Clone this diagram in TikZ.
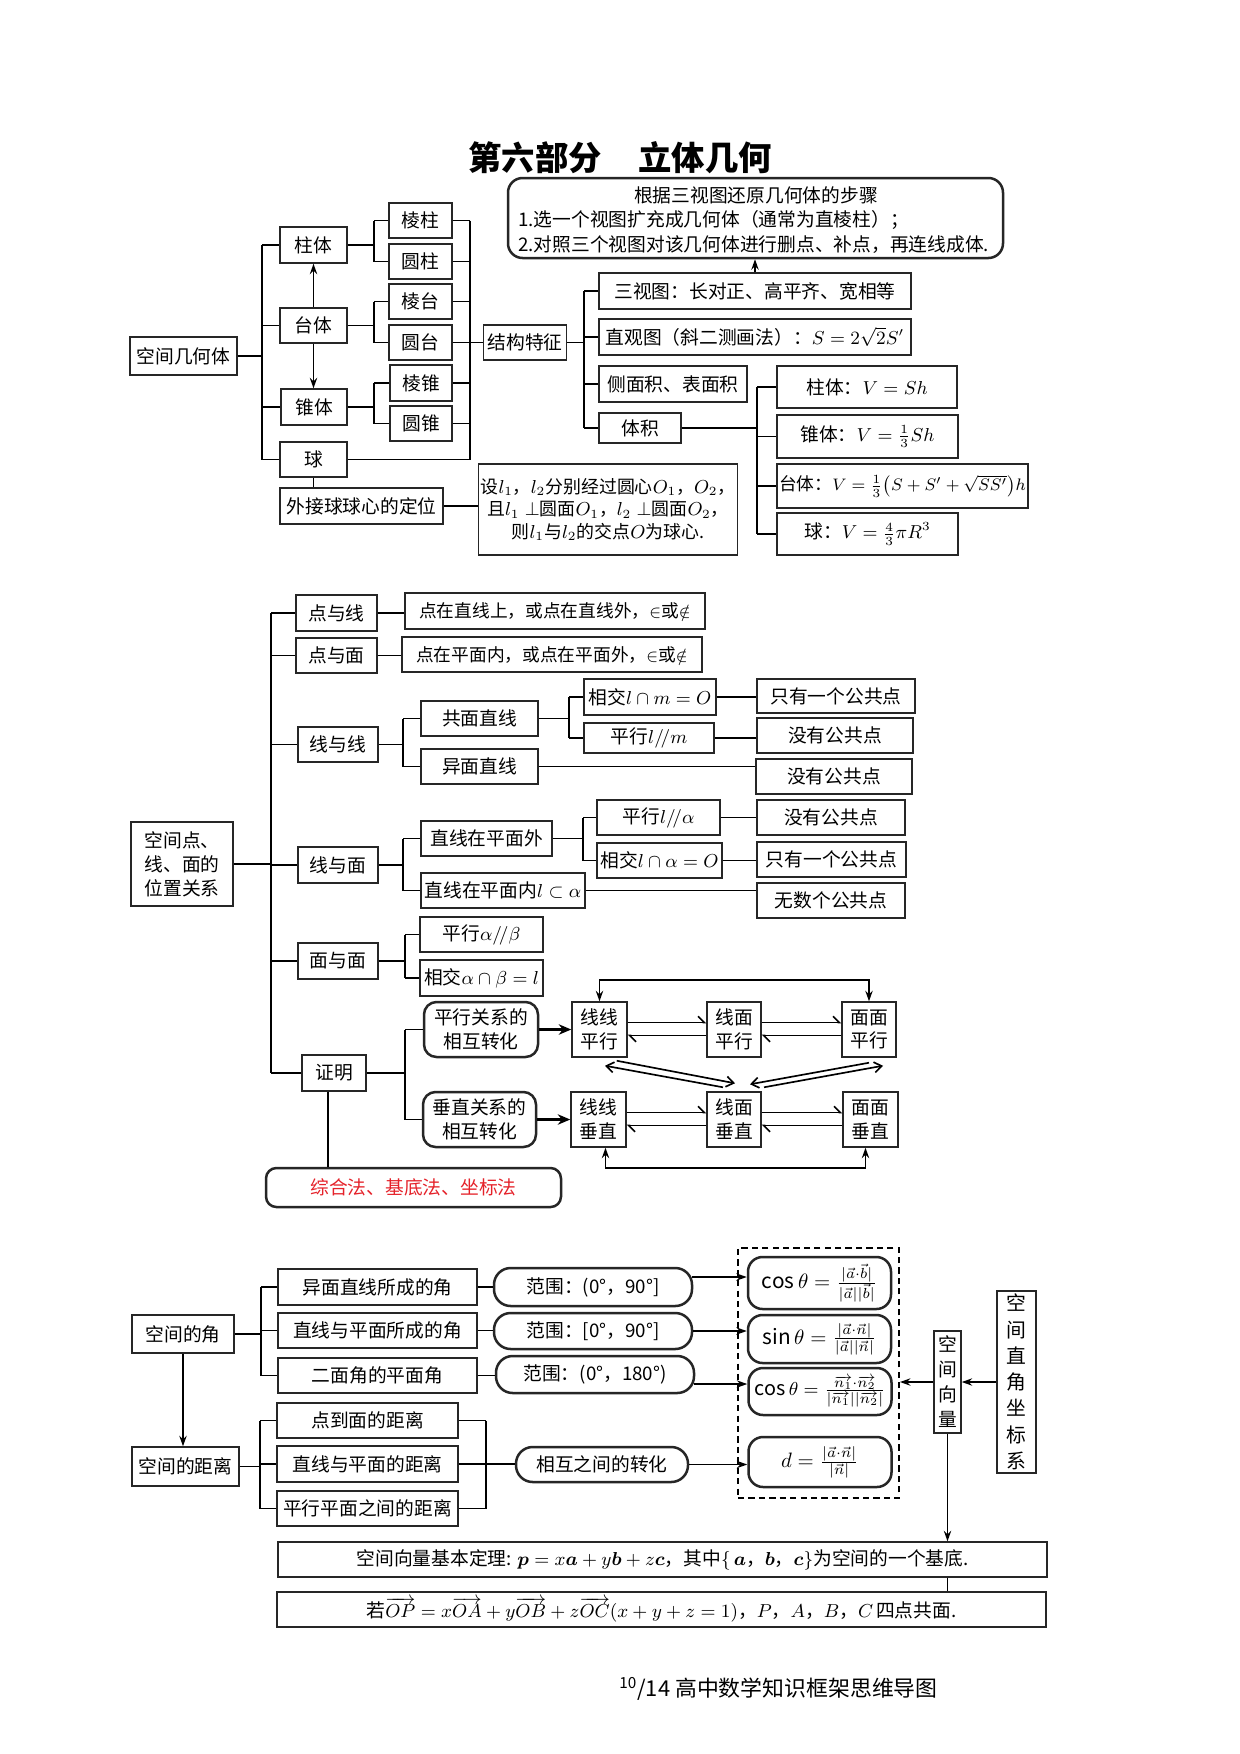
\documentclass[tikz,border=0pt]{standalone}
\usepackage{amsmath,amssymb}
\usepackage{fontspec}
\setmainfont{Noto Sans CJK SC}
\usetikzlibrary{arrows.meta,calc}
\definecolor{zred}{HTML}{E5222A}
\newcommand\fs{\fontsize{9}{11.5}\selectfont}
\newcommand\fsm{\fontsize{10}{12}\selectfont}
\tikzset{
  bx/.style={draw=black!85, line width=0.7pt, inner sep=1pt, font=\fs, align=center},
  sz/.style 2 args={minimum width=#1*0.48pt, minimum height=#2*0.48pt},
  rb/.style={bx, rounded corners=5pt, line width=1.2pt},
  ln/.style={line width=0.9pt},
  thin/.style={line width=0.7pt},
  arr/.style={ln, -{Stealth[length=5pt,width=3.5pt]}},
  arrb/.style={ln, {Stealth[length=5pt,width=3.5pt]}-{Stealth[length=5pt,width=3.5pt]}},
  harp/.style={line width=0.8pt, -{Straight Barb[harpoon,length=3pt,width=6pt]}},
  dg/.style={line width=0.8pt, -{Straight Barb[length=3.5pt,width=5pt]}}
}
\begin{document}
\begin{tikzpicture}[x=0.48pt,y=-0.48pt]
\fill[white] (0,0) rectangle (1240,1754);
\useasboundingbox (0,0) rectangle (1240,1754);

% ---------------- title ----------------
\node[font=\fontsize{16}{18}\selectfont\bfseries] (title) at (620,158) {第六部分\hspace{1.1em}立体几何};

% ---------------- part 1 ----------------
\node[rb, sz={495}{80}, rounded corners=7pt] (steps) at (755.5,218) {};
\node[font=\fs] (st1) at (756,195) {根据三视图还原几何体的步骤};
\node[font=\fs, anchor=west] (st2) at (511,220) {1.选一个视图扩充成几何体（通常为直棱柱）；};
\node[font=\fs, anchor=west] (st3) at (511,245) {2.对照三个视图对该几何体进行删点、补点，再连线成体.};

\node[bx, sz={107}{38}] (kjjht) at (183.5,356) {空间几何体};
\node[bx, sz={67}{36}] (zt) at (313.5,245) {柱体};
\node[bx, sz={67}{35}] (td) at (313.5,325.5) {台体};
\node[bx, sz={66}{36}] (zhui) at (314,407) {锥体};
\node[bx, sz={67}{35}] (qiu) at (313.5,459.5) {球};
\node[bx, sz={163}{36}] (wj) at (361.5,506) {外接球球心的定位};

\node[bx, sz={63}{35}] (lz) at (420.5,220.5) {棱柱};
\node[bx, sz={63}{35}] (yz) at (420.5,261.5) {圆柱};
\node[bx, sz={63}{35}] (lt) at (420.5,301.5) {棱台};
\node[bx, sz={63}{35}] (ytai) at (420.5,342.5) {圆台};
\node[bx, sz={62}{36}] (lzhui) at (421,383) {棱锥};
\node[bx, sz={62}{35}] (yzhui) at (421,423.5) {圆锥};

\node[bx, sz={83}{35}] (jg) at (525,342.5) {结构特征};
\node[bx, sz={312}{36}] (sst) at (755,291) {三视图：长对正、高平齐、宽相等};
\node[bx, sz={312}{36}] (zgt) at (755,337) {直观图（斜二测画法）：$S=2\sqrt{2}S'$};
\node[bx, sz={148}{36}] (cmj) at (673,384) {侧面积、表面积};
\node[bx, sz={82}{30}] (tj) at (640,428) {体积};

\node[bx, sz={180}{42}] (v1) at (867,387) {柱体：$V=Sh$};
\node[bx, sz={181}{43}] (v2) at (867.5,436.5) {锥体：$V=\frac{1}{3}Sh$};
\node[bx, sz={251}{44}, font=\fontsize{8.5}{11}\selectfont] (v3) at (902.5,486) {台体：$V=\frac{1}{3}\bigl(S+S'+\sqrt{SS'}\bigr)h$};
\node[bx, sz={181}{42}] (v4) at (867.5,534) {球：$V=\frac{4}{3}\pi R^3$};

\node[bx, sz={258}{91}, font=\fontsize{8.6}{11}\selectfont] (sl) at (608,509.5) {设$l_1$，$l_2$分别经过圆心$O_1$，$O_2$，\\且$l_1\perp$圆面$O_1$，$l_2\perp$圆面$O_2$，\\则$l_1$与$l_2$的交点$O$为球心.};

\coordinate (xA) at (262,0);
\coordinate (xB) at (374,0);
\coordinate (xC) at (470,0);
\coordinate (xD) at (584,0);
\coordinate (xE) at (757,0);

\draw[ln] (kjjht.east) -- (kjjht.east -| xA);
\draw[ln] (zt.west -| xA) -- (qiu.west -| xA);
\foreach \n in {zt,td,zhui,qiu} \draw[ln] (\n.west -| xA) -- (\n.west);

\draw[ln] (zt.east) -- (zt.east -| xB);
\draw[ln] (lz.west -| xB) -- (yz.west -| xB);
\draw[ln] (td.east) -- (td.east -| xB);
\draw[ln] (lt.west -| xB) -- (ytai.west -| xB);
\draw[ln] (zhui.east) -- (zhui.east -| xB);
\draw[ln] (lzhui.west -| xB) -- (yzhui.west -| xB);
\foreach \n in {lz,yz,lt,ytai,lzhui,yzhui} \draw[ln] (\n.west -| xB) -- (\n.west);

\draw[ln] (lz.east -| xC) -- (qiu.east -| xC);
\foreach \n in {lz,yz,lt,ytai,lzhui,yzhui,qiu} \draw[ln] (\n.east) -- (\n.east -| xC);
\draw[ln] (ytai.east -| xC) -- (jg.west);

\draw[arr] (td.north) -- (zt.south);
\draw[arr] (td.south) -- (td.south |- zhui.north);
\draw[ln] (qiu.south) -- (qiu.south |- wj.north);
\draw[ln] (wj.east) -- (wj.east -| sl.west);

\draw[ln] (jg.east) -- (jg.east -| xD);
\draw[ln] (sst.west -| xD) -- (tj.west -| xD);
\foreach \n in {sst,zgt,cmj,tj} \draw[ln] (\n.west -| xD) -- (\n.west);
\draw[arr] (sst.north) -- (sst.north |- steps.south);

\draw[ln] (tj.east) -- (tj.east -| xE);
\draw[ln] (v1.west -| xE) -- (v4.west -| xE);
\foreach \n in {v1,v2,v3,v4} \draw[ln] (\n.west -| xE) -- (\n.west);

% ---------------- part 2 ----------------
\node[bx, sz={102}{84}, align=left] (kjd) at (182,864) {空间点、\\线、面的\\位置关系};
\node[bx, sz={81}{36}] (dyx) at (336.5,613) {点与线};
\node[bx, sz={81}{35}] (dym) at (336.5,655.5) {点与面};
\node[bx, sz={80}{35}] (xyx) at (338,744.5) {线与线};
\node[bx, sz={80}{36}] (xym) at (338,865) {线与面};
\node[bx, sz={80}{36}] (mym) at (338,961) {面与面};
\node[bx, sz={64}{36}] (zm) at (334,1073) {证明};

\node[bx, sz={300}{36}, font=\fontsize{8.5}{11}\selectfont] (dx1) at (555,611) {点在直线上，或点在直线外，$\in$或$\notin$};
\node[bx, sz={300}{35}, font=\fontsize{8.5}{11}\selectfont] (dm1) at (552,654.5) {点在平面内，或点在平面外，$\in$或$\notin$};

\node[bx, sz={117}{35}] (gm) at (479.5,718.5) {共面直线};
\node[bx, sz={117}{35}] (ym) at (479.5,766.5) {异面直线};
\node[bx, sz={132}{36}] (xj1) at (650,697) {相交$l\cap m=O$};
\node[bx, sz={130}{30}] (px1) at (649,738) {平行$l/\!/m$};
\node[bx, sz={158}{34}] (r1) at (836,696) {只有一个公共点};
\node[bx, sz={156}{35}] (r2) at (835,735.5) {没有公共点};
\node[bx, sz={156}{35}] (r3) at (834,776.5) {没有公共点};

\node[bx, sz={131}{35}] (zw) at (486.5,838.5) {直线在平面外};
\node[bx, sz={164}{35}] (zn) at (503,890.5) {直线在平面内$l\subset\alpha$};
\node[bx, sz={123}{35}] (px2) at (658.5,817.5) {平行$l/\!/\alpha$};
\node[bx, sz={125}{35}] (xj2) at (659.5,860.5) {相交$l\cap\alpha=O$};
\node[bx, sz={148}{35}] (r4) at (831,817.5) {没有公共点};
\node[bx, sz={149}{35}] (r5) at (831.5,859.5) {只有一个公共点};
\node[bx, sz={148}{35}] (r6) at (831,900.5) {无数个公共点};

\node[bx, sz={123}{35}] (px3) at (481.5,934.5) {平行$\alpha/\!/\beta$};
\node[bx, sz={123}{36}] (xj3) at (481.5,978) {相交$\alpha\cap\beta=l$};

\node[rb, sz={114}{55}, rounded corners=6pt] (pxgx) at (481,1029.5) {平行关系的\\相互转化};
\node[rb, sz={113}{55}, rounded corners=6pt] (czgx) at (479.5,1119.5) {垂直关系的\\相互转化};

\node[bx, sz={55}{55}] (llpx) at (599.5,1029.5) {线线\\平行};
\node[bx, sz={54}{55}] (lmpx) at (734,1029.5) {线面\\平行};
\node[bx, sz={54}{55}] (mmpx) at (869,1029.5) {面面\\平行};
\node[bx, sz={55}{55}] (llcz) at (598.5,1119.5) {线线\\垂直};
\node[bx, sz={54}{55}] (lmcz) at (734,1119.5) {线面\\垂直};
\node[bx, sz={55}{55}] (mmcz) at (870.5,1119.5) {面面\\垂直};

\node[rb, sz={295}{39}, rounded corners=5pt, text=zred] (zhf) at (413.5,1187.5) {综合法、基底法、坐标法};

\coordinate (xM) at (271,0);
\coordinate (xF) at (403,0);
\coordinate (xG) at (569,0);
\coordinate (xH) at (583,0);
\coordinate (xI) at (405,0);

\draw[ln] (kjd.east) -- (kjd.east -| xM);
\draw[ln] (dyx.west -| xM) -- (zm.west -| xM);
\foreach \n in {dyx,dym,xyx,xym,mym,zm} \draw[ln] (\n.west -| xM) -- (\n.west);
\draw[ln] (dyx.east) -- (dyx.east -| dx1.west);
\draw[ln] (dym.east) -- (dym.east -| dm1.west);

\draw[ln] (xyx.east) -- (xyx.east -| xF);
\draw[ln] (gm.west -| xF) -- (ym.west -| xF);
\foreach \n in {gm,ym} \draw[ln] (\n.west -| xF) -- (\n.west);
\draw[ln] (gm.east) -- (gm.east -| xG);
\draw[ln] (xj1.west -| xG) -- (px1.west -| xG);
\foreach \n in {xj1,px1} \draw[ln] (\n.west -| xG) -- (\n.west);
\draw[ln] (xj1.east) -- (xj1.east -| r1.west);
\draw[ln] (px1.east) -- (px1.east -| r2.west);
\draw[ln] (ym.east) -- (ym.east -| r3.west);

\draw[ln] (xym.east) -- (xym.east -| xF);
\draw[ln] (zw.west -| xF) -- (zn.west -| xF);
\foreach \n in {zw,zn} \draw[ln] (\n.west -| xF) -- (\n.west);
\draw[ln] (zw.east) -- (zw.east -| xH);
\draw[ln] (px2.west -| xH) -- (xj2.west -| xH);
\foreach \n in {px2,xj2} \draw[ln] (\n.west -| xH) -- (\n.west);
\draw[ln] (px2.east) -- (px2.east -| r4.west);
\draw[ln] (xj2.east) -- (xj2.east -| r5.west);
\draw[ln] (zn.east) -- (zn.east -| r6.west);

\draw[ln] (mym.east) -- (mym.east -| xI);
\draw[ln] (px3.west -| xI) -- (xj3.west -| xI);
\foreach \n in {px3,xj3} \draw[ln] (\n.west -| xI) -- (\n.west);

\draw[ln] (zm.east) -- (zm.east -| xI);
\draw[ln] (pxgx.west -| xI) -- (czgx.west -| xI);
\foreach \n in {pxgx,czgx} \draw[ln] (\n.west -| xI) -- (\n.west);

\draw[line width=1.4pt, -{Stealth[length=6pt,width=5pt]}] (pxgx.east) -- (llpx.west);
\draw[line width=1.4pt, -{Stealth[length=6pt,width=5pt]}] (czgx.east) -- (llcz.west);

\draw[harp] ($(llpx.east)+(0,-7)$) -- ($(lmpx.west)+(0,-7)$);
\draw[harp] ($(lmpx.west)+(0,6)$) -- ($(llpx.east)+(0,6)$);
\draw[harp] ($(lmpx.east)+(0,-7)$) -- ($(mmpx.west)+(0,-7)$);
\draw[harp] ($(mmpx.west)+(0,6)$) -- ($(lmpx.east)+(0,6)$);
\draw[harp] ($(llcz.east)+(0,-7)$) -- ($(lmcz.west)+(0,-7)$);
\draw[harp] ($(lmcz.west)+(0,6)$) -- ($(llcz.east)+(0,6)$);
\draw[harp] ($(lmcz.east)+(0,-7)$) -- ($(mmcz.west)+(0,-7)$);
\draw[harp] ($(mmcz.west)+(0,6)$) -- ($(lmcz.east)+(0,6)$);

\draw[dg] ($(llpx.south east)+(-11,3)$) -- ($(lmcz.north)+(1,-8)$);
\draw[dg] ($(lmcz.north)+(-11,-4)$) -- ($(llpx.south)+(5.5,8)$);
\draw[dg] ($(mmpx.south)+(0,5)$) -- ($(lmcz.north)+(16,-7)$);
\draw[dg] ($(lmcz.north)+(30,-4)$) -- ($(mmpx.south)+(14,8)$);

\draw[arrb] (llpx.north) -- ++(0,-21) -| (mmpx.north);
\draw[arrb] ($(llcz.south)+(7,0)$) -- ++(0,20) -| ($(mmcz.south)+(-5,0)$);

\coordinate (zmb) at ($(zm.south)+(-6,0)$);
\draw[thin] (zmb) -- (zmb |- zhf.north);

% ---------------- part 3 ----------------
\node[bx, sz={102}{38}] (kjj) at (183,1334) {空间的角};
\node[bx, sz={107}{39}] (kjl) at (185.5,1466.5) {空间的距离};
\node[bx, sz={199}{36}] (a1) at (377.5,1287) {异面直线所成的角};
\node[bx, sz={199}{35}] (a2) at (377.5,1330.5) {直线与平面所成的角};
\node[bx, sz={199}{35}] (a3) at (377.5,1375.5) {二面角的平面角};
\node[rb, sz={198}{38}, rounded corners=8pt] (fw1) at (593,1287) {范围：(0°，90°]};
\node[rb, sz={198}{36}, rounded corners=8pt] (fw2) at (593,1331) {范围：[0°，90°]};
\node[rb, sz={198}{37}, rounded corners=8pt] (fw3) at (595,1374.5) {范围：(0°，180°)};

\node[bx, sz={181}{35}] (d1) at (367.5,1420.5) {点到面的距离};
\node[bx, sz={181}{36}] (d2) at (367.5,1464) {直线与平面的距离};
\node[bx, sz={181}{35}] (d3) at (367.5,1508.5) {平行平面之间的距离};
\node[rb, sz={172}{35}, rounded corners=8pt] (hx) at (602,1464.5) {相互之间的转化};

\node[draw, dashed, dash pattern=on 3pt off 2pt, line width=0.9pt, sz={161}{250}] (db) at (818.5,1373) {};
\node[rb, sz={143}{52}, rounded corners=7pt, font=\fsm] (cs1) at (819.5,1283) {$\cos\theta=\frac{|\vec{a}\cdot\vec{b}|}{|\vec{a}||\vec{b}|}$};
\node[rb, sz={143}{48}, rounded corners=7pt, font=\fsm] (sn) at (819.5,1339) {$\sin\theta=\frac{|\vec{a}\cdot\vec{n}|}{|\vec{a}||\vec{n}|}$};
\node[rb, sz={143}{47}, rounded corners=7pt, font=\fontsize{9.5}{12}\selectfont] (cs2) at (820,1391.5) {$\cos\theta=\frac{\overrightarrow{n_1}\cdot\overrightarrow{n_2}}{|\overrightarrow{n_1}||\overrightarrow{n_2}|}$};
\node[rb, sz={143}{50}, rounded corners=7pt, font=\fsm] (dd) at (820,1462) {$d=\frac{|\vec{a}\cdot\vec{n}|}{|\vec{n}|}$};

\node[bx, sz={27}{102}, font=\fontsize{9}{12}\selectfont] (kjxl) at (947.5,1382) {空\\间\\向\\量};
\node[bx, sz={39}{182}, font=\fontsize{9.5}{12.6}\selectfont] (zjzb) at (1016.5,1382) {空\\间\\直\\角\\坐\\标\\系};

\node[bx, sz={769}{35}] (jb) at (662.5,1559.5) {空间向量基本定理: $\boldsymbol{p}=x\boldsymbol{a}+y\boldsymbol{b}+z\boldsymbol{c}$，其中$\{\,\boldsymbol{a}$，$\boldsymbol{b}$，$\boldsymbol{c}\}$为空间的一个基底.};
\node[bx, sz={769}{35}] (ruo) at (661.5,1609.5) {若$\overrightarrow{OP}=x\overrightarrow{OA}+y\overrightarrow{OB}+z\overrightarrow{OC}(x+y+z=1)$，$P$，$A$，$B$，$C$\,四点共面.};

\coordinate (xJ) at (261,0);
\coordinate (xK) at (260,0);
\coordinate (xL) at (486,0);

\draw[arr] (kjj.south) -- (kjj.south |- kjl.north);
\draw[ln] (kjj.east) -- (kjj.east -| xJ);
\draw[ln] (a1.west -| xJ) -- (a3.west -| xJ);
\foreach \n in {a1,a2,a3} \draw[ln] (\n.west -| xJ) -- (\n.west);
\draw[ln] (a1.east) -- (fw1.west);
\draw[ln] (a2.east) -- (a2.east -| fw2.west);
\draw[ln] (a3.east) -- (a3.east -| fw3.west);

\draw[ln] (kjl.east) -- (kjl.east -| xK);
\draw[ln] (d1.west -| xK) -- (d3.west -| xK);
\foreach \n in {d1,d2,d3} \draw[ln] (\n.west -| xK) -- (\n.west);
\draw[ln] (d1.east -| xL) -- (d3.east -| xL);
\foreach \n in {d1,d2,d3} \draw[ln] (\n.east) -- (\n.east -| xL);
\draw[ln] (d2.east -| xL) -- (d2.east -| hx.west);

\coordinate (p1) at ($(fw1.east)+(-1,-10)$);
\coordinate (p3) at ($(fw3.east)+(-1,9.5)$);
\draw[arr] (p1) -- (p1 -| cs1.west);
\draw[arr] (fw2.east) -- (fw2.east -| sn.west);
\draw[arr] (p3) -- (p3 -| cs2.west);
\draw[arr] (hx.east) -- (hx.east -| dd.west);

\draw[arr] (zjzb.west) -- (zjzb.west -| kjxl.east);
\draw[arr] (kjxl.west) -- (kjxl.west -| db.east);
\draw[arr] (kjxl.south) -- (kjxl.south |- jb.north);
\draw[ln] (kjxl.south |- jb.south) -- (kjxl.south |- ruo.north);

% footer
\node[anchor=west, font=\fontsize{10.5}{13}\selectfont] (ft) at (612,1689) {\textsuperscript{10}/14 高中数学知识框架思维导图};
\end{tikzpicture}
\end{document}
